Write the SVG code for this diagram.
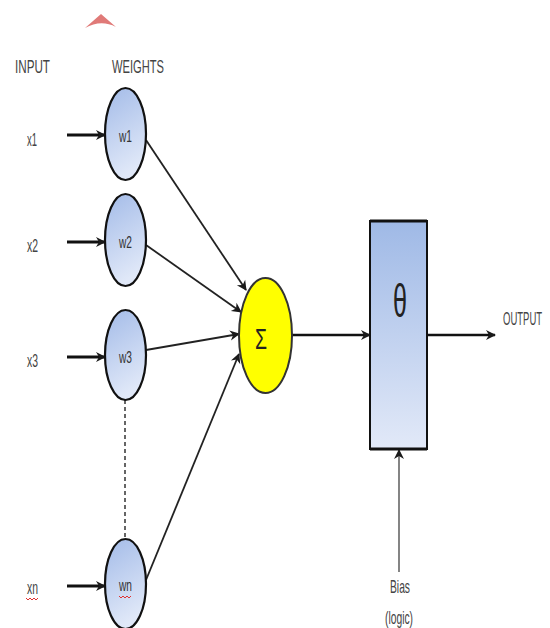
<svg xmlns="http://www.w3.org/2000/svg" width="550" height="628" viewBox="0 0 550 628">
<defs>
<linearGradient id="gw" x1="0" y1="0" x2="0.3" y2="1">
<stop offset="0" stop-color="#a3bbe8"/>
<stop offset="1" stop-color="#e0e8f8"/>
</linearGradient>
<linearGradient id="gb" x1="0" y1="0" x2="0" y2="1">
<stop offset="0" stop-color="#9fb9e6"/>
<stop offset="1" stop-color="#e2e9f8"/>
</linearGradient>
<marker id="ah" markerUnits="userSpaceOnUse" markerWidth="12" markerHeight="12" refX="10" refY="6" orient="auto" viewBox="0 0 12 12">
<path d="M1,1 L11,6 L1,11 L4,6 z" fill="#1a1a1a"/>
</marker>
</defs>
<style>
.t{font-family:"Liberation Sans Narrow","Liberation Sans",Arial,sans-serif;font-size:19px;fill:#444;}
.l{font-family:"Liberation Sans Narrow","Liberation Sans",Arial,sans-serif;font-size:17px;fill:#333;}
.w{stroke:#111;stroke-width:2.2;fill:url(#gw);}
.in{stroke:#111;stroke-width:3;fill:none;marker-end:url(#ah);}
.ln{stroke:#222;stroke-width:1.8;fill:none;marker-end:url(#ah);}
.sq{stroke:#e03030;stroke-width:1;fill:none;}
</style>
<rect width="550" height="628" fill="#ffffff"/>
<path d="M85,28 L101,14 L116,27 Q101,19 85,28 z" fill="#e07a78"/>
<text class="t" x="15" y="73" textLength="35" lengthAdjust="spacingAndGlyphs">INPUT</text>
<text class="t" x="112" y="73" textLength="52" lengthAdjust="spacingAndGlyphs">WEIGHTS</text>
<text class="t" x="27" y="146" textLength="10" lengthAdjust="spacingAndGlyphs">x1</text>
<text class="t" x="27" y="252" textLength="11" lengthAdjust="spacingAndGlyphs">x2</text>
<text class="t" x="27" y="367" textLength="11" lengthAdjust="spacingAndGlyphs">x3</text>
<text class="t" x="27" y="594" textLength="11" lengthAdjust="spacingAndGlyphs">xn</text>
<path class="sq" d="M26,598 l2,2 l2,-2 l2,2 l2,-2 l2,2 l2,-2"/>
<g id="connectors">
<line class="in" x1="67" y1="135" x2="105" y2="135"/>
<line class="in" x1="67" y1="242" x2="105" y2="242"/>
<line class="in" x1="67" y1="357" x2="105" y2="357"/>
<line class="in" x1="67" y1="586" x2="105" y2="586"/>
<line x1="125" y1="400" x2="125" y2="539" stroke="#333" stroke-width="1.5" stroke-dasharray="4,3"/>
<line class="ln" x1="146" y1="140" x2="246" y2="290"/>
<line class="ln" x1="146" y1="245" x2="241" y2="312"/>
<line class="ln" x1="146" y1="350" x2="239" y2="334"/>
<line class="ln" x1="146" y1="580" x2="239" y2="354"/>
<line class="in" x1="292" y1="335" x2="370" y2="335" style="stroke-width:2.5"/>
<line class="in" x1="427" y1="335" x2="495" y2="335" style="stroke-width:2.5"/>
<line class="ln" x1="399" y1="572" x2="399" y2="450" style="stroke:#666;stroke-width:1.6"/>
</g>
<g id="w1"><ellipse class="w" cx="125.5" cy="134" rx="20.5" ry="46"/><text class="l" x="125.5" y="142" text-anchor="middle" textLength="13" lengthAdjust="spacingAndGlyphs">w1</text></g>
<g id="w2"><ellipse class="w" cx="125.5" cy="240" rx="20.5" ry="46"/><text class="l" x="125.5" y="248" text-anchor="middle" textLength="13" lengthAdjust="spacingAndGlyphs">w2</text></g>
<g id="w3"><ellipse class="w" cx="125.5" cy="355" rx="20.5" ry="45"/><text class="l" x="125.5" y="363" text-anchor="middle" textLength="13" lengthAdjust="spacingAndGlyphs">w3</text></g>
<g id="wn"><ellipse class="w" cx="125.5" cy="584" rx="20.5" ry="45"/><text class="l" x="125.5" y="591" text-anchor="middle" textLength="13" lengthAdjust="spacingAndGlyphs">wn</text><path class="sq" d="M119,596 l2,2 l2,-2 l2,2 l2,-2 l2,2 l2,-2"/></g>
<g id="sum"><ellipse cx="265.5" cy="335.5" rx="26.5" ry="57.5" fill="#ffff00" stroke="#333" stroke-width="2"/><text x="261" y="349" text-anchor="middle" font-family="Liberation Sans,sans-serif" font-size="30" fill="#222" textLength="12" lengthAdjust="spacingAndGlyphs">Σ</text></g>
<g id="theta"><rect x="370" y="221" width="57" height="228" fill="url(#gb)" stroke="#111" stroke-width="2"/><line x1="370" y1="221" x2="427" y2="221" stroke="#111" stroke-width="3"/><line x1="370" y1="449" x2="427" y2="449" stroke="#111" stroke-width="3"/><text x="400" y="317" text-anchor="middle" font-family="Liberation Sans,sans-serif" font-size="46" fill="#222" textLength="14" lengthAdjust="spacingAndGlyphs">θ</text></g>
<text class="t" transform="translate(503,325) scale(0.5,1)" x="0" y="0" font-size="21">OUTPUT</text>
<text class="t" x="400" y="593" text-anchor="middle" font-size="17" textLength="20" lengthAdjust="spacingAndGlyphs">Bias</text>
<text class="t" x="399" y="624" text-anchor="middle" font-size="17" textLength="28" lengthAdjust="spacingAndGlyphs">(logic)</text>
</svg>
